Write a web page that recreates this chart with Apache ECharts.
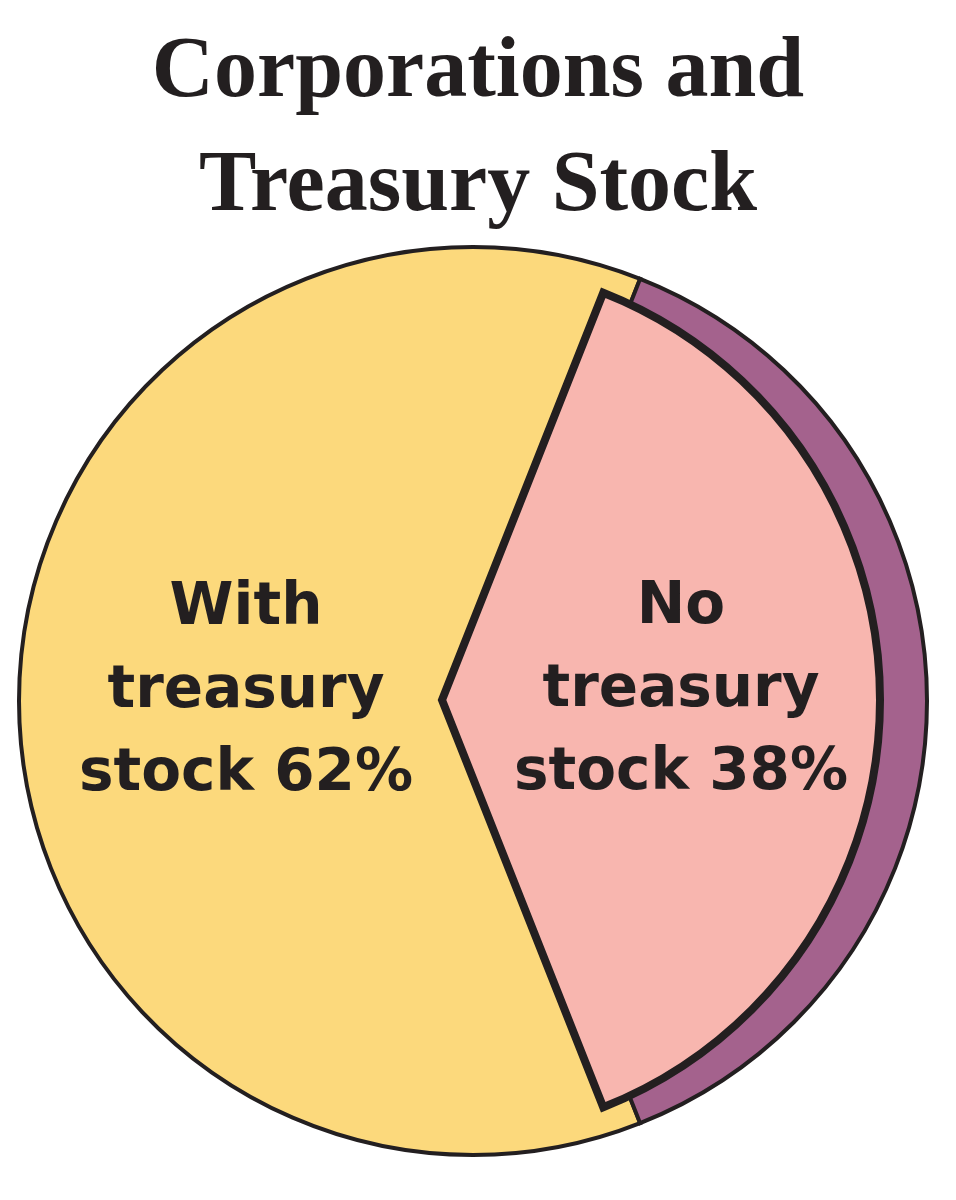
<!DOCTYPE html>
<html>
<head>
<meta charset="utf-8">
<script src="https://cdn.jsdelivr.net/npm/echarts@6/dist/echarts.min.js"></script>
<style>
html,body{margin:0;padding:0;background:#fff;}
#chart{width:956px;height:1200px;}
</style>
</head>
<body>
<div id="chart"></div>
<script>
const titleText = 'Corporations and\nTreasury Stock';
const categories = ['With treasury stock', 'No treasury stock'];
const values = [62, 38];

const INK = '#231f20';
const YELLOW = '#FCD97C';
const PINK = '#F8B6AF';
const PURPLE = '#A4628D';

function labelText(p) {
  const w = p.name.split(' ');
  return w[0] + '\n' + w[1] + '\n' + w.slice(2).join(' ') + ' ' + p.value + '%';
}

const labelStyle = {
  show: true,
  position: 'inside',
  formatter: labelText,
  color: INK,
  fontFamily: 'DejaVu Sans',
  fontWeight: 'bold',
  fontSize: 58,
  lineHeight: 83,
  align: 'center'
};

const chart = echarts.init(document.getElementById('chart'), null, {renderer: 'canvas'});
chart.setOption({
  backgroundColor: '#ffffff',
  animation: false,
  title: {
    text: titleText,
    left: 'center',
    top: 12,
    textStyle: {
      fontFamily: 'Liberation Serif',
      fontWeight: 'bold',
      fontSize: 86,
      lineHeight: 114,
      color: INK
    }
  },
  series: [
    {
      type: 'pie',
      center: [473, 701],
      radius: [0, 454],
      startAngle: -68.4,
      clockwise: true,
      avoidLabelOverlap: false,
      silent: true,
      itemStyle: { borderColor: INK, borderWidth: 4, borderJoin: 'miter' },
      labelLine: { show: false },
      data: [
        { name: categories[0], value: values[0], itemStyle: { color: YELLOW },
          label: Object.assign({}, labelStyle, { offset: [3, -9] }) },
        { name: categories[1], value: values[1], itemStyle: { color: PURPLE },
          label: { show: false } }
      ]
    },
    {
      type: 'pie',
      center: [442, 700],
      radius: [0, 438],
      startAngle: -68.4,
      clockwise: true,
      avoidLabelOverlap: false,
      silent: true,
      labelLine: { show: false },
      data: [
        { name: categories[0], value: values[0],
          itemStyle: { color: 'rgba(0,0,0,0)', borderWidth: 0 },
          label: { show: false } },
        { name: categories[1], value: values[1],
          itemStyle: { color: PINK, borderColor: INK, borderWidth: 8, borderJoin: 'miter' },
          label: Object.assign({}, labelStyle, { offset: [17, -9] }) }
      ]
    }
  ]
});
</script>
</body>
</html>
